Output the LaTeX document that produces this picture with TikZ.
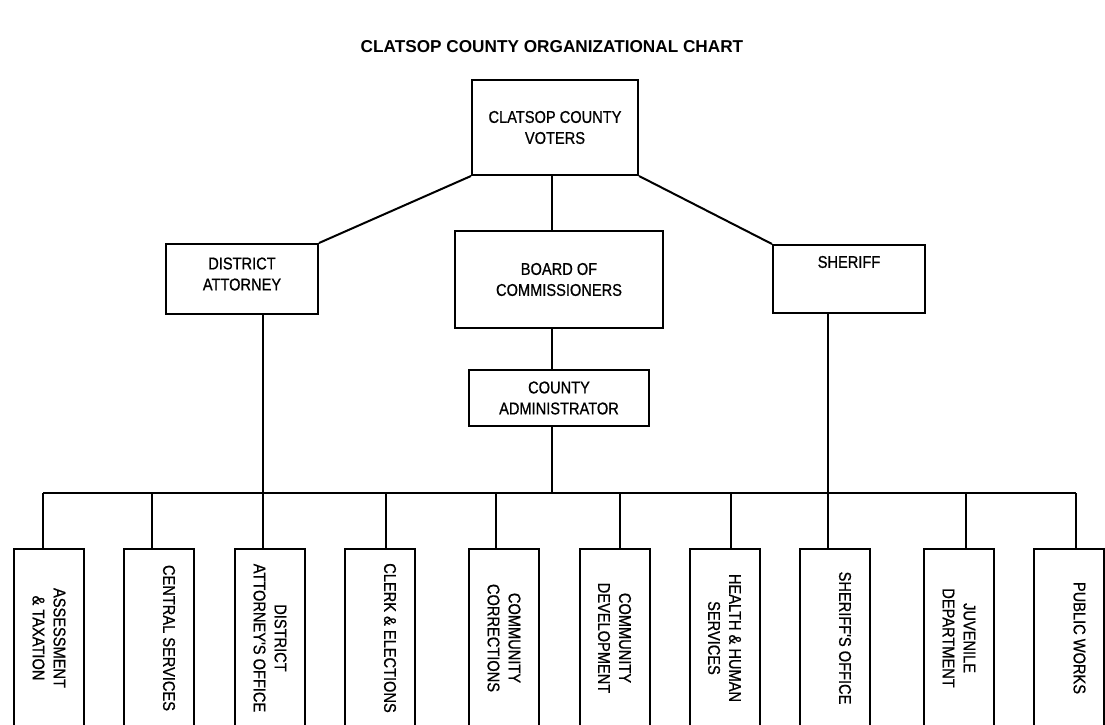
\documentclass[tikz,border=0pt]{standalone}
\usepackage{fontspec}
\setmainfont{Liberation Sans}
\newfontfamily\boxfont[FakeStretch=0.86,FakeBold=0.8]{Liberation Sans}
\usetikzlibrary{calc}
\begin{document}
\begin{tikzpicture}[x=1pt,y=-1pt,
  box/.style={draw, line width=2pt, inner sep=0pt, fill=white},
  lbl/.style={inner sep=0pt, align=center, font=\boxfont\fontsize{17}{21}\selectfont},
  dept/.style={box, minimum width=70pt, minimum height=178pt},
  dtext/.style={lbl, rotate=-90},
  link/.style={line width=2pt}]
\useasboundingbox (0,0) rectangle (1105,725);
\clip (0,0) rectangle (1105,725);

\node[inner sep=0pt, font=\bfseries\fontsize{17.2}{20}\selectfont] (title) at (552,47) {CLATSOP COUNTY ORGANIZATIONAL CHART};

\node[box, lbl, minimum width=166pt, minimum height=95pt] (voters) at (555,127.5) {CLATSOP COUNTY\\VOTERS};
\node[box, lbl, minimum width=208pt, minimum height=97pt] (board) at (559,279.5) {BOARD OF\\COMMISSIONERS};
\node[box, lbl, minimum width=180pt, minimum height=56pt] (admin) at (559,398) {COUNTY\\ADMINISTRATOR};
\node[box, minimum width=152pt, minimum height=70pt] (da) at (242,279) {};
\node[lbl] (datext) at ($(da.center)+(0,-5)$) {DISTRICT\\ATTORNEY};
\node[box, minimum width=152pt, minimum height=68pt] (sheriff) at (849,279) {};
\node[lbl] (shtext) at ($(sheriff.center)+(0,-17)$) {SHERIFF};

\foreach \i/\cx/\dx/\sh/\txt in {
 1/49/43/0/{ASSESSMENT\\\& TAXATION},
 2/158.5/152/10.5/{CENTRAL SERVICES},
 3/270/263/0/{DISTRICT\\ATTORNEY'S OFFICE},
 4/379.5/386/10.5/{CLERK \& ELECTIONS},
 5/504/496/0/{COMMUNITY\\CORRECTIONS},
 6/614.5/620/0/{COMMUNITY\\DEVELOPMENT},
 7/724.5/731/0/{HEALTH \& HUMAN\\SERVICES},
 8/834.5/828/10.5/{SHERIFF'S OFFICE},
 9/959/966/0/{JUVENILE\\DEPARTMENT},
 10/1069/1076/10.5/{PUBLIC WORKS}}
{
 \node[dept] (b\i) at (\cx,638) {};
 \node[dtext] (t\i) at ([xshift=\sh pt]b\i.center) {\txt};
 \coordinate (d\i) at (\dx,493);
 \draw[link] (d\i) -- (d\i |- b\i.north);
}
\coordinate (ax) at (552,493);
\draw[link] (d1) -- (d10);
\draw[link] (voters.south west) -- (da.north east);
\draw[link] (voters.south east) -- (sheriff.north west);
\draw[link] (voters.south -| ax) -- (board.north -| ax);
\draw[link] (board.south -| ax) -- (admin.north -| ax);
\draw[link] (admin.south -| ax) -- (ax);
\draw[link] (da.south -| d3) -- (d3);
\draw[link] (sheriff.south -| d8) -- (d8);
\end{tikzpicture}
\end{document}
